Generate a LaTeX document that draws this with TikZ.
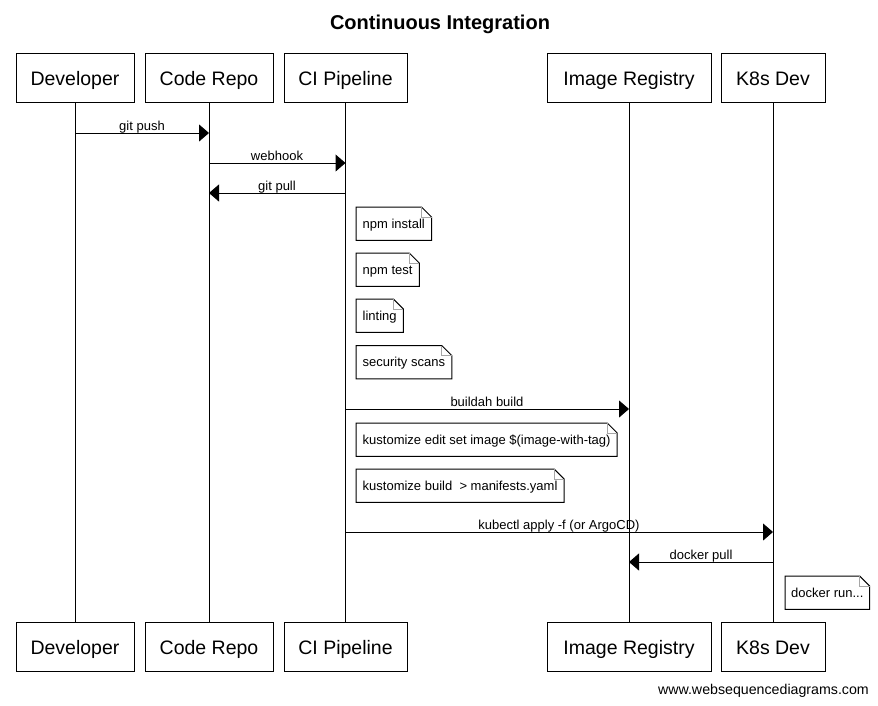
\documentclass[tikz,border=0pt]{standalone}
\usepackage{fontspec}
\setmainfont{Liberation Sans}
\usetikzlibrary{arrows.meta}
\tikzset{
  actor/.style={draw, line width=1pt, minimum height=49pt, inner sep=0pt, text height=18pt, text depth=1.6pt, font=\fontsize{19.5}{22}\selectfont},
  life/.style={line width=1pt},
  msg/.style={line width=1pt, -{Triangle[length=10pt,width=17pt]}},
  lbl/.style={font=\fontsize{13}{15}\selectfont, inner sep=0pt, anchor=base},
  notebox/.style={anchor=north west, inner xsep=6.5pt, inner ysep=0pt, minimum height=33pt, text height=10pt, text depth=1pt, font=\fontsize{13}{15}\selectfont},
}
\newcommand{\notefold}[1]{%
  \draw[line width=1pt] (#1.north west) -- ([xshift=-10pt]#1.north east) -- ([yshift=-10pt]#1.north east) -- (#1.south east) -- (#1.south west) -- cycle;
  \draw[gray!70, line width=0.6pt] ([xshift=-10pt]#1.north east) -- ([xshift=-10pt,yshift=-10pt]#1.north east) -- ([yshift=-10pt]#1.north east);
}
\begin{document}
\begin{tikzpicture}[x=1pt,y=-1pt]
\useasboundingbox[fill=white] (0,0) rectangle (878,705);
\node[font=\bfseries\fontsize{20}{22}\selectfont, anchor=base, inner sep=0pt] (title) at (440,29) {Continuous Integration};
% top actors
\node[actor, minimum width=118pt] (devT) at (75,77.5) {Developer};
\node[actor, minimum width=128pt] (repoT) at (209,77.5) {Code Repo};
\node[actor, minimum width=123pt] (ciT) at (345.5,77.5) {CI Pipeline};
\node[actor, minimum width=164pt] (irT) at (629,77.5) {Image Registry};
\node[actor, minimum width=104pt] (k8sT) at (773,77.5) {K8s Dev};
% bottom actors
\node[actor, minimum width=118pt] (devB) at (75,646.5) {Developer};
\node[actor, minimum width=128pt] (repoB) at (209,646.5) {Code Repo};
\node[actor, minimum width=123pt] (ciB) at (345.5,646.5) {CI Pipeline};
\node[actor, minimum width=164pt] (irB) at (629,646.5) {Image Registry};
\node[actor, minimum width=104pt] (k8sB) at (773,646.5) {K8s Dev};
% lifelines
\draw[life] (devT.south) -- (devB.north);
\draw[life] (repoT.south) -- (repoB.north);
\draw[life] (ciT.south) -- (ciB.north);
\draw[life] (irT.south) -- (irB.north);
\draw[life] (k8sT.south) -- (k8sB.north);
% messages
\draw[msg] (devT.south |- 0,133) -- (repoT.south |- 0,133);
\node[lbl] (l1) at (142,130) {git push};
\draw[msg] (repoT.south |- 0,163) -- (ciT.south |- 0,163);
\node[lbl] (l2) at (277,160) {webhook};
\draw[msg] (ciT.south |- 0,193) -- (repoT.south |- 0,193);
\node[lbl] (l3) at (277,190) {git pull};
% notes
\node[notebox] (n1) at (356,207) {npm install}; \notefold{n1}
\node[notebox] (n2) at (356,253) {npm test}; \notefold{n2}
\node[notebox] (n3) at (356,299) {linting}; \notefold{n3}
\node[notebox] (n4) at (356,345.5) {security scans}; \notefold{n4}
\draw[msg] (ciT.south |- 0,409) -- (irT.south |- 0,409);
\node[lbl] (l4) at (487,406) {buildah build};
\node[notebox] (n5) at (356,423) {kustomize edit set image \$(image-with-tag)}; \notefold{n5}
\node[notebox] (n6) at (356,469) {kustomize build\ \ > manifests.yaml}; \notefold{n6}
\draw[msg] (ciT.south |- 0,532) -- (k8sT.south |- 0,532);
\node[lbl] (l5) at (559,529) {kubectl apply -f (or ArgoCD)};
\draw[msg] (k8sT.south |- 0,562) -- (irT.south |- 0,562);
\node[lbl] (l6) at (701,559) {docker pull};
\node[notebox, inner xsep=6pt] (n7) at (785,576) {docker run...}; \notefold{n7}
\node[font=\fontsize{14.2}{16}\selectfont, anchor=base east, inner sep=0pt] (foot) at (869,694) {www.websequencediagrams.com};
\end{tikzpicture}
\end{document}
